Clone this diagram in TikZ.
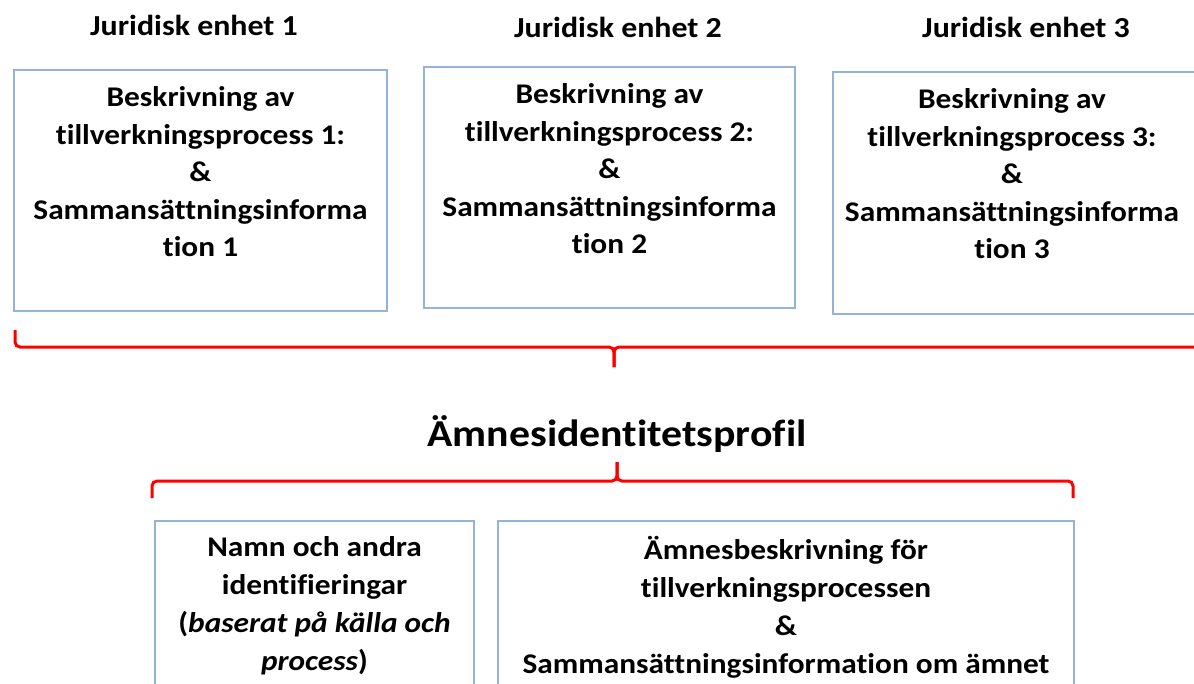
\documentclass[tikz,border=0pt]{standalone}
\usepackage{fontspec}
\setmainfont{Carlito}[FakeStretch=1.1,RawFeature={-liga}]
\definecolor{boxblue}{RGB}{149,179,215}
\begin{document}
\begin{tikzpicture}[x=1pt,y=-1pt,
  box/.style={draw=boxblue, line width=1.5pt, inner sep=0pt, rectangle},
  txt/.style={font=\bfseries\fontsize{28.5}{37.5}\selectfont, align=center, inner sep=0pt, anchor=north},
  btxt/.style={font=\bfseries\fontsize{28.5}{38}\selectfont, align=center, inner sep=0pt, anchor=north},
  head/.style={font=\bfseries\fontsize{29}{34}\selectfont, inner sep=0pt, anchor=base},
  bigtitle/.style={font=\bfseries\fontsize{38}{44}\selectfont, inner sep=0pt, anchor=base},
  brace/.style={draw=red, line width=3pt, rounded corners=5pt}]
\useasboundingbox (0,0) rectangle (1194,683);

% headings
\node[head] (h1) at (194,35) {Juridisk enhet 1};
\node[head] (h2) at (618,37) {Juridisk enhet 2};
\node[head] (h3) at (1026,37) {Juridisk enhet 3};

% top boxes
\node[box, minimum width=373pt, minimum height=241pt] (b1) at (200.5,190.5) {};
\node[box, minimum width=371pt, minimum height=241pt] (b2) at (609.5,187.5) {};
\node[box, minimum width=377pt, minimum height=242pt] (b3) at (1021.5,193) {};

\node[txt] (t1) at (200.5,86.5) {Beskrivning av\\tillverkningsprocess 1:\\\&\\Sammansättningsinforma\\tion 1};
\node[txt] (t2) at (609.5,83.5) {Beskrivning av\\tillverkningsprocess 2:\\\&\\Sammansättningsinforma\\tion 2};
\node[txt] (t3) at (1012,88.5) {Beskrivning av\\tillverkningsprocess 3:\\\&\\Sammansättningsinforma\\tion 3};

% upper brace
\coordinate (ul) at (15,330);
\coordinate (ur) at (1210,330);
\coordinate (um) at (614,347);
\coordinate (utip) at (614,367);
\draw[brace] (ul) |- (um) -- (utip);
\draw[brace] (ur) |- (um) -- (utip);

% main title
\node[bigtitle] (title) at (617,446) {Ämnesidentitetsprofil};

% lower brace
\coordinate (ll) at (152,498);
\coordinate (lr) at (1073,498);
\coordinate (lm) at (617,481);
\coordinate (ltip) at (617,462);
\draw[brace] (ll) |- (lm) -- (ltip);
\draw[brace] (lr) |- (lm) -- (ltip);

% bottom boxes
\node[box, minimum width=319pt, minimum height=179pt] (c1) at (314.5,610.5) {};
\node[box, minimum width=576pt, minimum height=179pt] (c2) at (786,610.5) {};

\node[btxt] (s1) at (314.5,536.5) {Namn och andra\\identifieringar\\(\textit{baserat på källa och}\\\textit{process})};
\node[btxt] (s2) at (786,536.5) {Ämnesbeskrivning för\\tillverkningsprocessen\\\&\\Sammansättningsinformation om ämnet};
\end{tikzpicture}
\end{document}
